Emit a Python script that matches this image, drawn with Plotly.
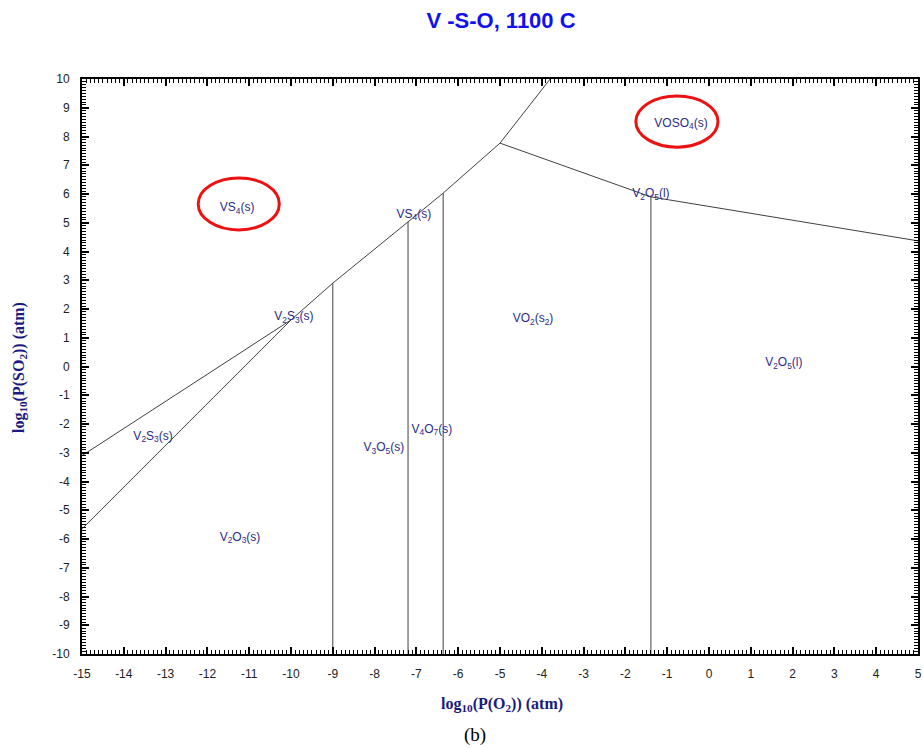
import plotly.graph_objects as go

# ---- data (log10 P(O2), log10 P(SO2)) ----
# V2S3 / VS4 boundary (upper-left line)
b1_x = [-15.0, -10.0]
b1_y = [-3.1, 1.62]
# V2S3 / V2O3 boundary (lower-left line)
b2_x = [-15.0, -10.0]
b2_y = [-5.65, 1.62]
# VS4 / oxides boundary (curved line going to the top)
b3_x = [-10.0, -9.0, -7.2, -6.36, -5.0, -3.8]
b3_y = [1.62, 2.9, 5.03, 6.03, 7.77, 10.0]
# VOSO4 / oxides boundary (line going to the right edge)
b4_x = [-5.0, -1.39, 5.0]
b4_y = [7.77, 5.9, 4.37]
# vertical oxide boundaries: x position and top end
vert_x = [-9.0, -7.2, -6.36, -1.39]
vert_top = [2.9, 5.03, 6.03, 5.9]
vert_bottom = -10.0

# phase labels
lab_text = ["VS<sub>4</sub>(s)", "VOSO<sub>4</sub>(s)", "VS<sub>4</sub>(s)", "V<sub>2</sub>O<sub>5</sub>(l)",
            "V<sub>2</sub>S<sub>3</sub>(s)", "VO<sub>2</sub>(s<sub>2</sub>)", "V<sub>2</sub>O<sub>5</sub>(l)",
            "V<sub>2</sub>S<sub>3</sub>(s)", "V<sub>3</sub>O<sub>5</sub>(s)", "V<sub>4</sub>O<sub>7</sub>(s)",
            "V<sub>2</sub>O<sub>3</sub>(s)"]
lab_x = [-11.29, -0.67, -7.06, -1.39, -9.93, -4.21, 1.79, -13.3, -7.78, -6.63, -11.22]
lab_y = [5.5, 8.45, 5.28, 6.0, 1.72, 1.65, 0.12, -2.45, -2.85, -2.2, -5.95]

# highlighted regions (ellipse bounds: x0, x1, y0, y1)
ell1 = [-12.22, -10.28, 4.75, 6.56]
ell2 = [-1.75, 0.215, 7.63, 9.41]

x_ticks = list(range(-15, 6))
y_ticks = list(range(-10, 11))

line_col = "#404040"
lab_col = "#2b2b8c"

fig = go.Figure()
for xs, ys in [(b1_x, b1_y), (b2_x, b2_y), (b3_x, b3_y), (b4_x, b4_y)]:
    fig.add_trace(go.Scatter(x=xs, y=ys, mode="lines",
                             line=dict(color=line_col, width=1), hoverinfo="skip"))
for vx, vt in zip(vert_x, vert_top):
    fig.add_trace(go.Scatter(x=[vx, vx], y=[vert_bottom, vt], mode="lines",
                             line=dict(color=line_col, width=1), hoverinfo="skip"))

fig.add_trace(go.Scatter(x=lab_x, y=lab_y, mode="text", text=lab_text,
                         textposition="middle center", hoverinfo="skip",
                         textfont=dict(family="Liberation Sans, Arial", size=12, color=lab_col)))

for e in (ell1, ell2):
    fig.add_shape(type="circle", xref="x", yref="y", x0=e[0], x1=e[1], y0=e[2], y1=e[3],
                  line=dict(color="#ee1111", width=3))

axis_common = dict(showgrid=False, zeroline=False, showline=True, linecolor="black", linewidth=2,
                   mirror="allticks", ticks="inside", ticklen=7, tickwidth=1.5, tickcolor="black",
                   automargin=False,
                   tickfont=dict(family="Liberation Sans, Arial", size=12, color="#222"),
                   minor=dict(dtick=0.1, ticks="inside", ticklen=4, tickwidth=1, tickcolor="black"))

fig.update_xaxes(range=[-15, 5], tickvals=x_ticks, ticktext=[str(v) for v in x_ticks],
                 ticklabelstandoff=8, **axis_common)
fig.update_yaxes(range=[-10, 10], tickvals=y_ticks, ticktext=[str(v) for v in y_ticks],
                 ticklabelstandoff=8, **axis_common)

fig.update_layout(
    width=923, height=749,
    margin=dict(l=82, r=5, t=79, b=95),
    plot_bgcolor="white", paper_bgcolor="white",
    showlegend=False,
    title=dict(text="<b>V -S-O, 1100 C</b>", x=501 / 923, y=1 - 20 / 749,
               xanchor="center", yanchor="middle",
               font=dict(family="Liberation Sans, Arial", size=22, color="#1010f0")),
    annotations=[
        dict(text="<b>log<sub>10</sub>(P(O<sub>2</sub>)) (atm)</b>", xref="paper", yref="paper",
             x=0.502, y=-0.087, xanchor="center", yanchor="middle", showarrow=False,
             font=dict(family="Liberation Serif, Times New Roman", size=16, color="#1a1a80")),
        dict(text="<b>log<sub>10</sub>(P(SO<sub>2</sub>)) (atm)</b>", xref="paper", yref="paper",
             x=-0.0754, y=0.499, xanchor="center", yanchor="middle", showarrow=False, textangle=-90,
             font=dict(family="Liberation Serif, Times New Roman", size=16, color="#1a1a80")),
        dict(text="(b)", xref="paper", yref="paper", x=0.470, y=-0.141, xanchor="center",
             yanchor="middle", showarrow=False,
             font=dict(family="Liberation Serif, Times New Roman", size=19, color="black")),
    ],
)

fig.write_html("out.html", config={"responsive": False, "displayModeBar": False},
               post_script="document.body.style.margin='0';document.body.style.overflow='hidden';")
